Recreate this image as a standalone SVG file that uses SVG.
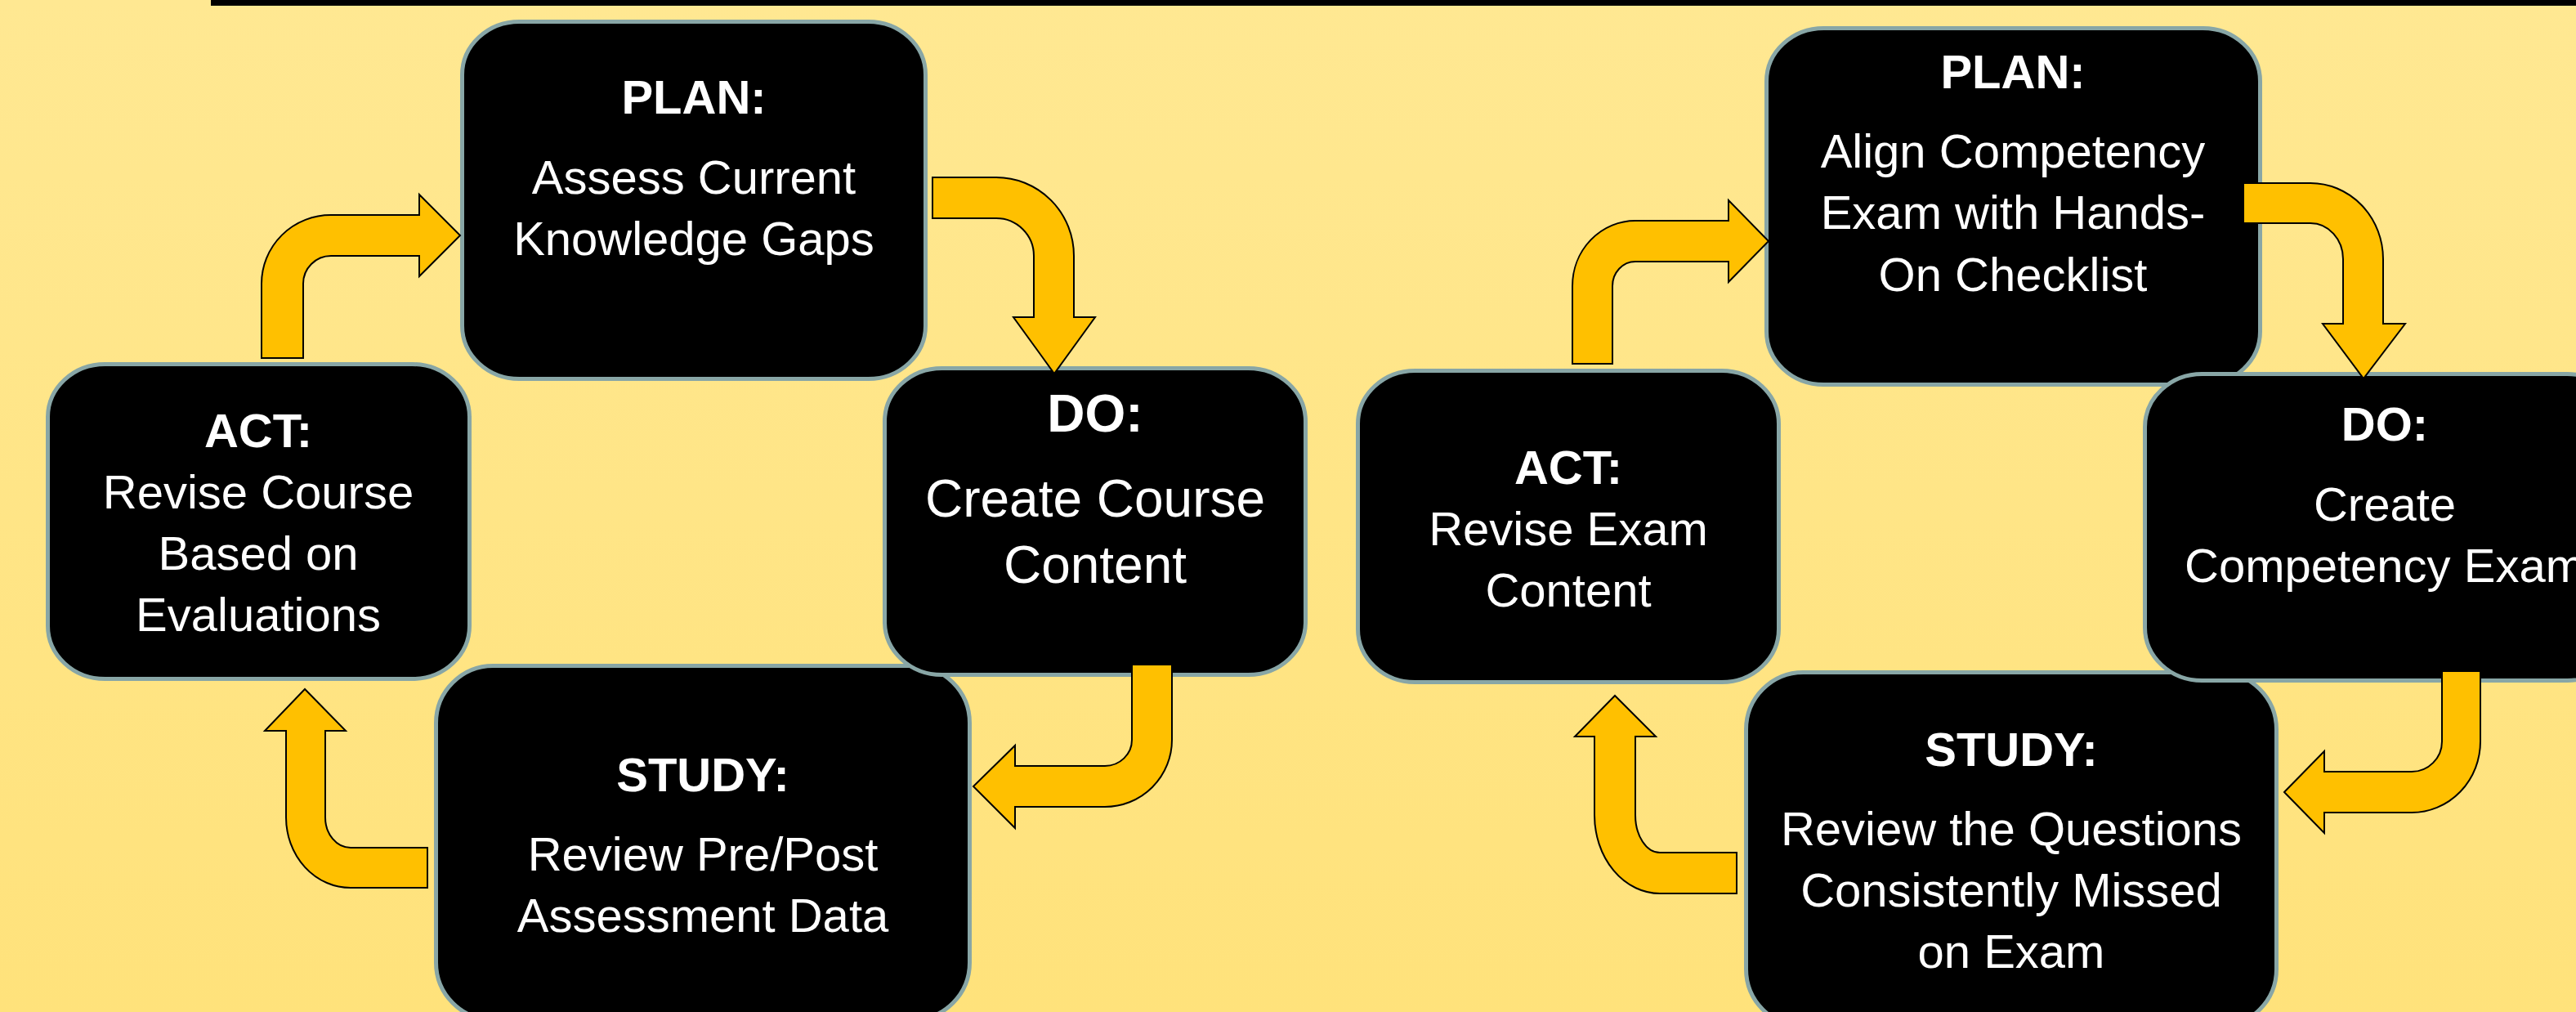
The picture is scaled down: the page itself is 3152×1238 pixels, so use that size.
<svg xmlns="http://www.w3.org/2000/svg" width="3152" height="1238" viewBox="0 0 3152 1238">
<defs>
<linearGradient id="bg" x1="0" y1="0" x2="0" y2="1">
<stop offset="0" stop-color="#FFE892"/>
<stop offset="1" stop-color="#FFE27B"/>
</linearGradient>
</defs>
<style>
.box{fill:#000;stroke:#88A6A6;stroke-width:5}
.arr{fill:#FFC000;stroke:#000;stroke-width:2;stroke-linejoin:miter}
text{font-family:"Liberation Sans",Arial,sans-serif;fill:#fff;text-anchor:middle}
.h{font-weight:bold;font-size:58px}
.t{font-size:58px}
.h2{font-weight:bold;font-size:64px}
.t2{font-size:64px}
</style>
<rect x="0" y="0" width="3152" height="1238" fill="url(#bg)"/>
<rect x="258" y="0" width="2894" height="7" fill="#000"/>

<g id="study1">
<rect class="box" x="533.5" y="814.5" width="653" height="433" rx="70" ry="70"/>
<text class="h" x="860" y="968">STUDY:</text>
<text class="t" x="860" y="1065">Review Pre/Post</text>
<text class="t" x="860" y="1140">Assessment Data</text>
</g>
<g id="act1">
<rect class="box" x="58.5" y="445.5" width="516" height="385" rx="70" ry="65"/>
<text class="h" x="316" y="547">ACT:</text>
<text class="t" x="316" y="622">Revise Course</text>
<text class="t" x="316" y="697">Based on</text>
<text class="t" x="316" y="772">Evaluations</text>
</g>
<g id="plan1">
<rect class="box" x="565.5" y="26.5" width="567" height="437" rx="70" ry="65"/>
<text class="h" x="849" y="139">PLAN:</text>
<text class="t" x="849" y="237">Assess Current</text>
<text class="t" x="849" y="312">Knowledge Gaps</text>
</g>
<g id="do1">
<rect class="box" x="1082.5" y="450.5" width="515" height="375" rx="70" ry="65"/>
<text class="h2" x="1340" y="528">DO:</text>
<text class="t2" x="1340" y="632">Create Course</text>
<text class="t2" x="1340" y="713">Content</text>
</g>

<g id="study2">
<rect class="box" x="2136.5" y="822.5" width="649" height="433" rx="70" ry="70"/>
<text class="h" x="2461" y="937">STUDY:</text>
<text class="t" x="2461" y="1034">Review the Questions</text>
<text class="t" x="2461" y="1109">Consistently Missed</text>
<text class="t" x="2461" y="1184">on Exam</text>
</g>
<g id="act2">
<rect class="box" x="1661.5" y="453.5" width="515" height="381" rx="70" ry="65"/>
<text class="h" x="1919" y="592">ACT:</text>
<text class="t" x="1919" y="667">Revise Exam</text>
<text class="t" x="1919" y="742">Content</text>
</g>
<g id="plan2">
<rect class="box" x="2161.5" y="34.5" width="604" height="436" rx="70" ry="65"/>
<text class="h" x="2463" y="108">PLAN:</text>
<text class="t" x="2463" y="205">Align Competency</text>
<text class="t" x="2463" y="280">Exam with Hands-</text>
<text class="t" x="2463" y="356">On Checklist</text>
</g>
<g id="do2">
<rect class="box" x="2624.5" y="457.5" width="587" height="375" rx="70" ry="65"/>
<text class="h" x="2918" y="539">DO:</text>
<text class="t" x="2918" y="637">Create</text>
<text class="t" x="2918" y="712">Competency Exam</text>
</g>

<g id="connectors">
<path class="arr" d="M 320,438 L 320,347 A 85,84 0 0 1 405,263 L 513,263 L 513,238 L 563,288 L 513,338 L 513,313 L 405,313 A 34,34 0 0 0 371,347 L 371,438 Z"/>
<path class="arr" d="M 1141,217 L 1219,217 A 95,96 0 0 1 1314,313 L 1314,388 L 1340,388 L 1290,457 L 1240,388 L 1265,388 L 1265,313 A 46,46 0 0 0 1219,267 L 1141,267 Z"/>
<path class="arr" d="M 1385,813 L 1434,813 L 1434,905 A 82,82 0 0 1 1352,987 L 1242,987 L 1242,1013 L 1191,962 L 1242,912 L 1242,937 L 1352,937 A 33,32 0 0 0 1385,905 Z"/>
<path class="arr" d="M 523,1037 L 523,1086 L 429,1086 A 79,86 0 0 1 350,1000 L 350,894 L 324,894 L 373,843 L 423,894 L 398,894 L 398,1000 A 31,37 0 0 0 429,1037 Z"/>
<path class="arr" d="M 1924,445 L 1924,350 A 77,80 0 0 1 2001,270 L 2115,270 L 2115,245 L 2164,295 L 2115,345 L 2115,320 L 2001,320 A 28,30 0 0 0 1973,350 L 1973,445 Z"/>
<path class="arr" d="M 2745,224 L 2827,224 A 89,93 0 0 1 2916,317 L 2916,396 L 2943,396 L 2892,463 L 2842,396 L 2867,396 L 2867,317 A 40,44 0 0 0 2827,273 L 2745,273 Z"/>
<path class="arr" d="M 2988,821 L 3035,821 L 3035,907 A 84,87 0 0 1 2951,994 L 2844,994 L 2844,1019 L 2795,969 L 2844,919 L 2844,944 L 2951,944 A 37,37 0 0 0 2988,907 Z"/>
<path class="arr" d="M 2125,1043 L 2125,1093 L 2031,1093 A 80,96 0 0 1 1951,997 L 1951,901 L 1927,901 L 1976,851 L 2026,901 L 2001,901 L 2001,997 A 30,46 0 0 0 2031,1043 Z"/>
</g>
</svg>
